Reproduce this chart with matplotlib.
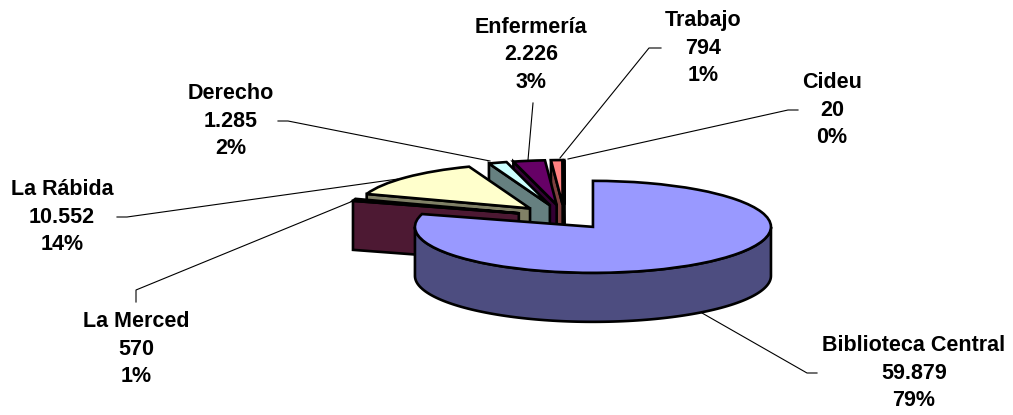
import matplotlib

matplotlib.use("Agg")
import matplotlib.pyplot as plt
import numpy as np
from matplotlib.patches import Polygon
from matplotlib.transforms import Affine2D

# data
names = ["Biblioteca Central", "La Merced", "La Rábida", "Derecho",
         "Enfermería", "Trabajo", "Cideu"]
values = [59879, 570, 10552, 1285, 2226, 794, 20]
value_labels = ["59.879", "570", "10.552", "1.285", "2.226", "794", "20"]
pct_labels = ["79%", "1%", "14%", "2%", "3%", "1%", "0%"]
top_colors = ["#9999FF", "#993366", "#FFFFCC", "#CCFFFF", "#660066", "#FF8080", "#0066CC"]
side_colors = ["#4D4D80", "#4D1933", "#808066", "#668080", "#330033", "#804040", "#003366"]

# label centre (middle line) and leader polyline, in image pixels
label_pos = [(914, 373), (136, 349), (62, 217), (231, 121), (531, 55), (703, 48), (832, 110)]
leaders = [
    [(702, 313), (807, 373), (817, 373)],
    [(136, 302), (136, 290), (353, 201)],
    [(117, 217), (127, 217), (398, 179)],
    [(278, 121), (288, 121), (490, 161)],
    [(533, 103), (528, 160)],
    [(661, 48), (649, 48), (560, 158)],
    [(798, 110), (788, 110), (568, 159)],
]

CX, CY, RX, RY, DEPTH = 564.3, 217.0, 178.0, 46.0, 49.0
EXPLODE = 0.268
BACK_R = 0.97  # slices at the back look a bit smaller in the original's perspective
LW = 1.9

fig = plt.figure(figsize=(10.13, 4.15), dpi=100)
ax = fig.add_axes([0, 0, 1, 1])

# the pie gives angles and exploded centres, squashed afterwards to fake the 3D tilt
wedges, _ = ax.pie(values, colors=top_colors, startangle=90, counterclock=False,
                   explode=[EXPLODE] * len(values),
                   wedgeprops={"edgecolor": "black", "linewidth": LW, "joinstyle": "miter"})
ax.set_aspect("auto")
ax.set_xlim(0, 1013)
ax.set_ylim(415, 0)
ax.axis("off")

squash = Affine2D().scale(RX, -RY).translate(CX, CY)


def to_px(x, y, drop=0.0):
    px = squash.transform(np.column_stack([x, y]))
    px[:, 1] += drop
    return px


def extrude(x, y, color, order):
    pts = np.vstack([to_px(x, y), to_px(x, y, DEPTH)[::-1]])
    ax.add_patch(Polygon(pts, closed=True, fc=color, ec="black", lw=LW,
                         joinstyle="miter", zorder=order))


def draw_side(w, order, color):
    cx, cy = w.center
    r = w.r
    # rim only where the arc faces the viewer (theta runs -270..90 here)
    lo, hi = max(w.theta1, -180.0), min(w.theta2, 0.0)
    if hi > lo:
        t = np.radians(np.linspace(lo, hi, 120))
        extrude(cx + r * np.cos(t), cy + r * np.sin(t), color, order)
    # theta2 is the clockwise-start edge, its cut face shows on the left half
    t = np.radians(w.theta2)
    if np.cos(t) < -1e-6:
        extrude(np.array([cx, cx + r * np.cos(t)]), np.array([cy, cy + r * np.sin(t)]), color, order)


n = len(wedges)
for i, (w, side) in enumerate(zip(wedges, side_colors)):
    # front-most slice is the first one, the rest run towards the back
    order = 2 * (n - i)
    if i > 0:
        w.set_radius(BACK_R)
    draw_side(w, order, side)
    w.set_transform(squash + ax.transData)
    w.set_zorder(order + 1)

for i in range(n):
    x, y = label_pos[i]
    ax.text(x, y, f"{names[i]}\n{value_labels[i]}\n{pct_labels[i]}", ha="center", va="center",
            multialignment="center", family=["Liberation Sans"], fontweight="bold",
            fontsize=15.5, linespacing=1.42, zorder=30)
    pts = np.array(leaders[i])
    ax.plot(pts[:, 0], pts[:, 1], color="black", lw=0.8, zorder=1)

fig.savefig("out.png", dpi=100)
